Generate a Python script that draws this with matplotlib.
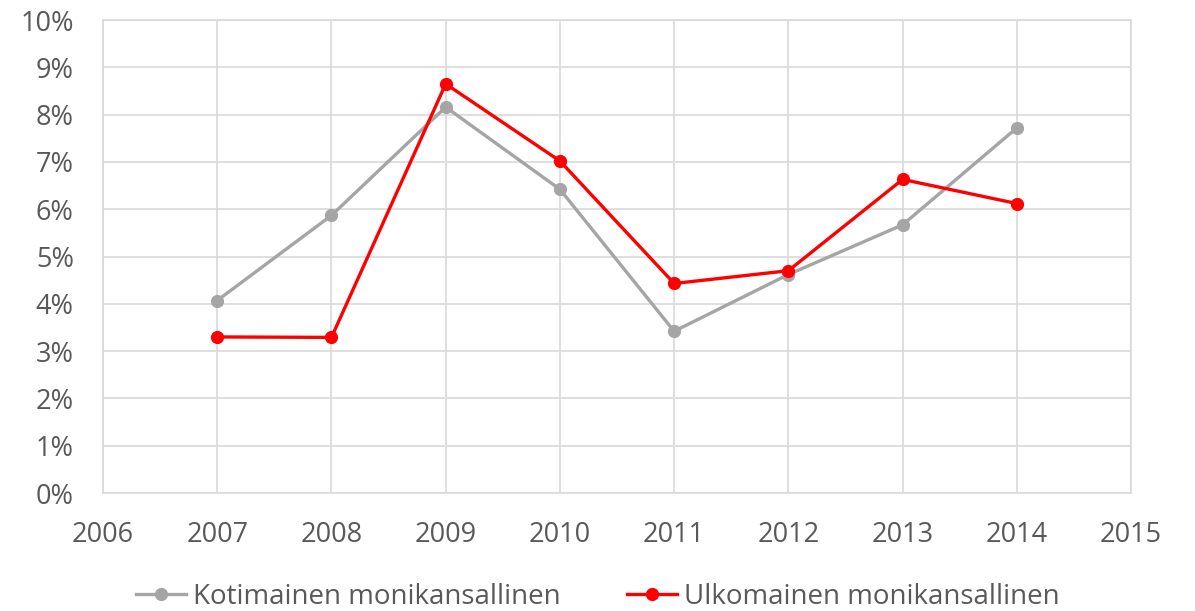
import matplotlib
matplotlib.use("Agg")
import matplotlib.pyplot as plt
from matplotlib.ticker import FuncFormatter, MultipleLocator

years = [2007, 2008, 2009, 2010, 2011, 2012, 2013, 2014]
kotimainen = [4.07, 5.87, 8.16, 6.42, 3.42, 4.62, 5.67, 7.72]
ulkomainen = [3.30, 3.29, 8.65, 7.02, 4.43, 4.70, 6.63, 6.12]
series_names = ["Kotimainen monikansallinen", "Ulkomainen monikansallinen"]

plt.rcParams['font.family'] = ['Open Sans', 'DejaVu Sans']
txt = '#595959'

fig = plt.figure(figsize=(11.95, 6.11), dpi=100)
ax = fig.add_axes([0.0862, 0.1931, 0.8603, 0.7741])

ax.plot(years, kotimainen, color='#A5A5A5', lw=2.4, marker='o', ms=8.5,
        label=series_names[0], solid_joinstyle='round', zorder=3)
ax.plot(years, ulkomainen, color='#FF0000', lw=2.4, marker='o', ms=8.5,
        label=series_names[1], solid_joinstyle='round', zorder=4)

ax.set_xlim(2006, 2015)
ax.set_ylim(0, 10)
ax.xaxis.set_major_locator(MultipleLocator(1))
ax.yaxis.set_major_locator(MultipleLocator(1))
ax.yaxis.set_major_formatter(FuncFormatter(lambda v, p: f"{v:.0f}%"))
ax.grid(True, color='#D9D9D9', lw=1.2)
ax.set_axisbelow(True)
for s in ax.spines.values():
    s.set_color('#D9D9D9')
    s.set_linewidth(1.2)
ax.tick_params(length=0, labelsize=19.5, labelcolor=txt)
ax.tick_params(axis='x', pad=20)
ax.tick_params(axis='y', pad=21)

leg = fig.legend(loc='center', bbox_to_anchor=(0.5, 0.023), ncol=2, frameon=False,
                 fontsize=20, handlelength=1.8, columnspacing=2.4, handletextpad=0.25)
for t in leg.get_texts():
    t.set_color(txt)

fig.savefig('out.png', dpi=100)
